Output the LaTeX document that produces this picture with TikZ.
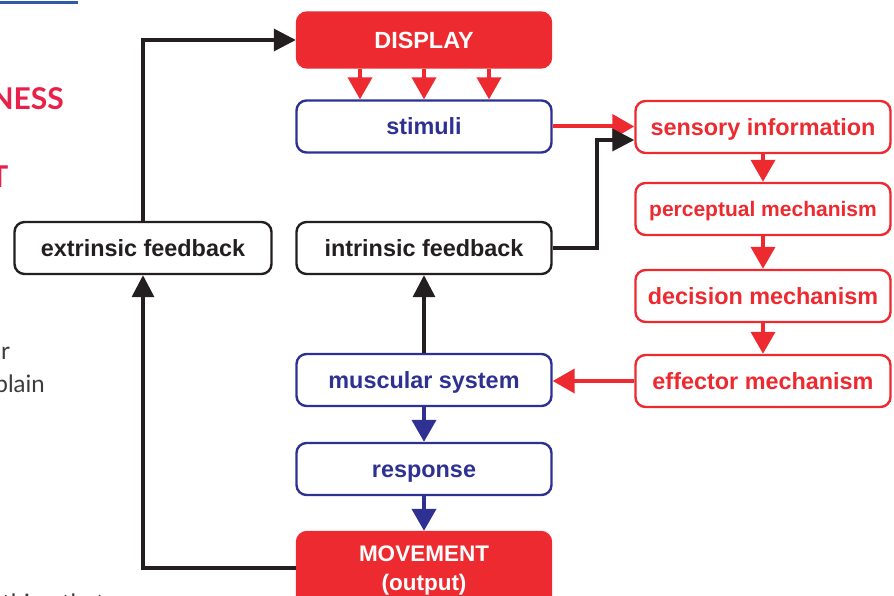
\documentclass[tikz,border=0pt]{standalone}
\usepackage{fontspec}
\setmainfont{Liberation Sans}
\newfontfamily\bodyfont{Lato}
\usetikzlibrary{arrows.meta,calc}
\definecolor{dred}{HTML}{ED2A2F}
\definecolor{dblue}{HTML}{2E3192}
\definecolor{dink}{HTML}{231F20}
\definecolor{headred}{HTML}{E9204A}
\definecolor{ruleblue}{HTML}{2B5BA5}
\definecolor{bodygray}{HTML}{3C3C3C}
\begin{document}
\begin{tikzpicture}[x=1pt,y=-1pt,
  box/.style={draw, rounded corners=10pt, line width=2.4pt, fill=white,
    minimum width=255pt, minimum height=52pt, inner sep=0pt,
    text height=16.5pt, text depth=0pt,
    font=\fontsize{23.4}{27}\selectfont\bfseries},
  redbox/.style={box, draw=dred, text=dred},
  bluebox/.style={box, draw=dblue, text=dblue},
  inkbox/.style={box, draw=dink, text=dink},
  solidbox/.style={box, draw=dred, fill=dred, text=white},
  redarr/.style={draw=dred, line width=4pt, -{Triangle[length=22pt,width=24pt]}},
  bluearr/.style={draw=dblue, line width=4pt, -{Triangle[length=22pt,width=24pt]}},
  inkarr/.style={draw=dink, line width=3.5pt, line join=miter, -{Triangle[length=22pt,width=22pt]}}
]
\useasboundingbox (0,0) rectangle (894,596);
\clip (0,0) rectangle (894,596);

% fragments of the surrounding page
\draw[ruleblue, line width=3pt] (0,3) -- (78,3);
\node[anchor=base east, inner sep=0pt, text=headred,
  font=\bodyfont\fontsize{30}{34}\selectfont\bfseries] (hA) at (64,110) {NESS};
\node[anchor=base, inner sep=0pt, text=headred,
  font=\bodyfont\fontsize{30}{34}\selectfont\bfseries] (hB) at (-0.5,188) {T};
\node[anchor=base east, inner sep=0pt, text=bodygray,
  font=\bodyfont\fontsize{24}{28}\selectfont] (tA) at (10,359) {r};
\node[anchor=base east, inner sep=0pt, text=bodygray,
  font=\bodyfont\fontsize{24}{28}\selectfont] (tB) at (45,392) {plain};
\node[anchor=base west, inner sep=0pt, text=bodygray,
  font=\bodyfont\fontsize{24}{28}\selectfont] (tC) at (2,611) {thing that};

% boxes
\node[solidbox, minimum width=254pt, minimum height=55pt] (display) at (424,40) {DISPLAY};
\node[bluebox] (stimuli) at (424,126.5) {stimuli};
\node[redbox] (sensory) at (763,127) {sensory information};
\node[redbox, text height=15pt, font=\fontsize{21}{25}\selectfont\bfseries] (perceptual) at (763,209) {perceptual mechanism};
\node[redbox] (decision) at (763,296) {decision mechanism};
\node[redbox] (effector) at (763,381) {effector mechanism};
\node[inkbox] (intrinsic) at (424,248) {intrinsic feedback};
\node[inkbox, minimum width=257pt] (extrinsic) at (143,248) {extrinsic feedback};
\node[bluebox] (muscular) at (424,380) {muscular system};
\node[bluebox] (response) at (424,469) {response};
\node[solidbox, minimum width=254pt, minimum height=76pt, align=center,
  text height=, text depth=,
  font=\fontsize{22.5}{29}\selectfont\bfseries] (movement) at (424,570) {MOVEMENT\\(output)};

% display to stimuli
\draw[redarr] ([xshift=-64pt]display.south) -- ([xshift=-64pt]display.south |- stimuli.north);
\draw[redarr] (display.south) -- (display.south |- stimuli.north);
\draw[redarr] ([xshift=65pt]display.south) -- ([xshift=65pt]display.south |- stimuli.north);

% information processing chain
\draw[redarr] (stimuli.east) -- (stimuli.east -| sensory.west);
\draw[redarr] (sensory) -- (perceptual);
\draw[redarr] (perceptual) -- (decision);
\draw[redarr] (decision) -- (effector);
\draw[redarr] (effector.west) -- (effector.west -| muscular.east);
\draw[bluearr] (muscular) -- (response);
\draw[bluearr] (response) -- (movement);

% feedback loops
\coordinate (ibend) at (597,248);
\draw[inkarr] (intrinsic.east) -- (ibend) |- ($(sensory.west)+(0,13)$);
\draw[inkarr] (muscular.north) -- (intrinsic.south);
\draw[inkarr] (movement.west |- 0,568) -| (extrinsic.south);
\draw[inkarr] (extrinsic.north) |- (display.west);
\end{tikzpicture}
\end{document}
